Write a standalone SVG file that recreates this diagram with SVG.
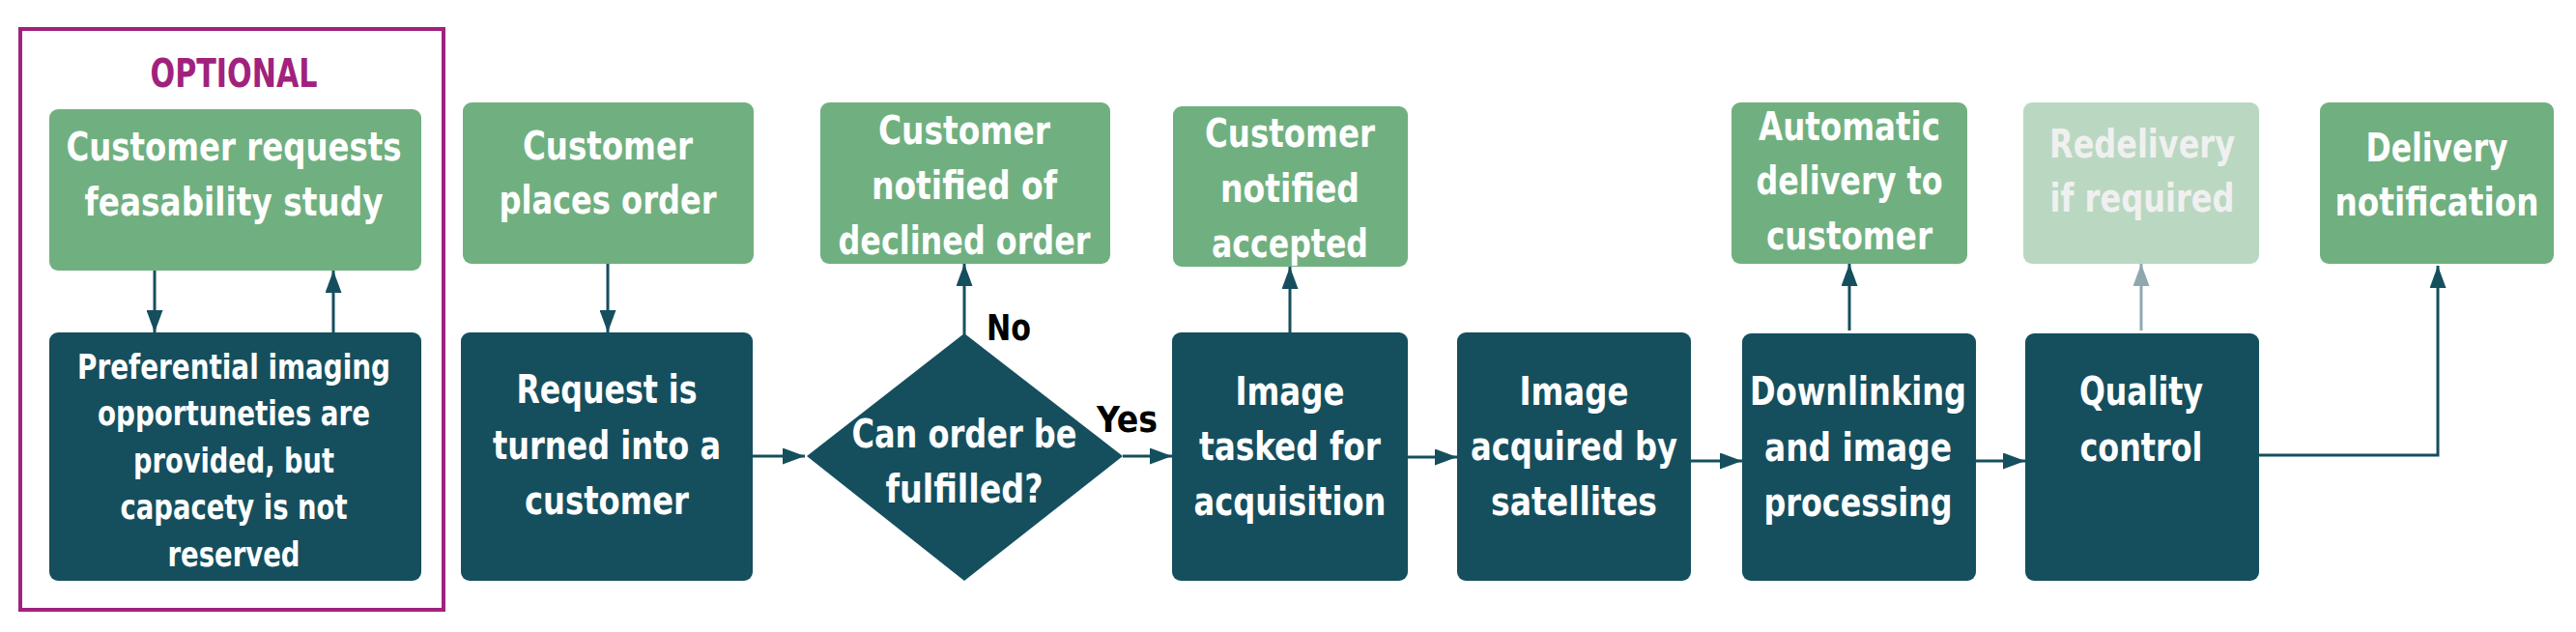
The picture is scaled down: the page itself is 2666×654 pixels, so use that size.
<svg xmlns="http://www.w3.org/2000/svg" width="2666" height="654" viewBox="0 0 2666 654">
<style>
.g{fill:#70B080}
.d{fill:#154F5E}
.p{fill:#BAD8C1}
text{font-family:"DejaVu Sans Condensed","DejaVu Sans","Liberation Sans",sans-serif;font-stretch:condensed;font-weight:bold}
.t{font-size:40px;fill:#FFFFFF;text-anchor:middle}
.ts{font-size:36px}
.pt{fill:#F0F0F0}
.lbl{font-size:37px;fill:#000000}
.c{fill:none;stroke:#154F5E;stroke-width:3}
.cp{fill:none;stroke:#8FA8B0;stroke-width:3}
</style>
<defs>
<marker id="ah" viewBox="0 0 23 17" refX="23" refY="8.5" markerWidth="23" markerHeight="17" orient="auto" markerUnits="userSpaceOnUse"><path d="M0,0 L23,8.5 L0,17 z" fill="#154F5E"/></marker>
<marker id="ahp" viewBox="0 0 23 17" refX="23" refY="8.5" markerWidth="23" markerHeight="17" orient="auto" markerUnits="userSpaceOnUse"><path d="M0,0 L23,8.5 L0,17 z" fill="#8FA8B0"/></marker>
</defs>
<rect x="0" y="0" width="2666" height="654" fill="#FFFFFF"/>
<g id="optional-frame">
<rect x="21" y="30" width="438" height="601" fill="none" stroke="#A0227D" stroke-width="4"/>
<text x="242" y="90" style="fill:#A0227D;text-anchor:middle;font-size:40px" textLength="173" lengthAdjust="spacingAndGlyphs">OPTIONAL</text>
</g>
<g id="connectors">
<line class="c" x1="160" y1="280" x2="160" y2="344" marker-end="url(#ah)"/>
<line class="c" x1="345" y1="344" x2="345" y2="280" marker-end="url(#ah)"/>
<line class="c" x1="629" y1="273" x2="629" y2="344" marker-end="url(#ah)"/>
<line class="c" x1="779" y1="472" x2="833" y2="472" marker-end="url(#ah)"/>
<line class="c" x1="998" y1="346" x2="998" y2="273" marker-end="url(#ah)"/>
<line class="c" x1="1162" y1="472" x2="1213" y2="472" marker-end="url(#ah)"/>
<line class="c" x1="1335" y1="344" x2="1335" y2="276" marker-end="url(#ah)"/>
<line class="c" x1="1457" y1="473" x2="1508" y2="473" marker-end="url(#ah)"/>
<line class="c" x1="1750" y1="477" x2="1803" y2="477" marker-end="url(#ah)"/>
<line class="c" x1="1914" y1="342" x2="1914" y2="273" marker-end="url(#ah)"/>
<line class="c" x1="2045" y1="477" x2="2096" y2="477" marker-end="url(#ah)"/>
<line class="cp" x1="2216" y1="342" x2="2216" y2="273" marker-end="url(#ahp)"/>
<polyline class="c" points="2338,471 2523,471 2523,275" marker-end="url(#ah)"/>
<text x="1021" y="352" class="lbl" textLength="46" lengthAdjust="spacingAndGlyphs">No</text>
<text x="1135" y="447" class="lbl" textLength="63" lengthAdjust="spacingAndGlyphs">Yes</text>
</g>
<g id="n-feasibility">
<rect class="g" x="51" y="113" width="385" height="167" rx="9"/>
<text class="t" x="242" y="166" textLength="347" lengthAdjust="spacingAndGlyphs">Customer requests</text>
<text class="t" x="242" y="223" textLength="309" lengthAdjust="spacingAndGlyphs">feasability study</text>
</g>
<g id="n-preferential">
<rect class="d" x="51" y="344" width="385" height="257" rx="9"/>
<text class="t ts" x="242" y="392" textLength="324" lengthAdjust="spacingAndGlyphs">Preferential imaging</text>
<text class="t ts" x="242" y="440" textLength="282" lengthAdjust="spacingAndGlyphs">opportuneties are</text>
<text class="t ts" x="242" y="489" textLength="208" lengthAdjust="spacingAndGlyphs">provided, but</text>
<text class="t ts" x="242" y="537" textLength="235" lengthAdjust="spacingAndGlyphs">capacety is not</text>
<text class="t ts" x="242" y="586" textLength="137" lengthAdjust="spacingAndGlyphs">reserved</text>
</g>
<g id="n-places-order">
<rect class="g" x="479" y="106" width="301" height="167" rx="9"/>
<text class="t" x="629" y="165" textLength="176" lengthAdjust="spacingAndGlyphs">Customer</text>
<text class="t" x="629" y="221" textLength="225" lengthAdjust="spacingAndGlyphs">places order</text>
</g>
<g id="n-request">
<rect class="d" x="477" y="344" width="302" height="257" rx="9"/>
<text class="t" x="628" y="417" textLength="187" lengthAdjust="spacingAndGlyphs">Request is</text>
<text class="t" x="628" y="475" textLength="236" lengthAdjust="spacingAndGlyphs">turned into a</text>
<text class="t" x="628" y="532" textLength="170" lengthAdjust="spacingAndGlyphs">customer</text>
</g>
<g id="n-decision">
<polygon class="d" points="998,345 1162,472 998,601 835,472"/>
<text class="t" x="998" y="463" textLength="233" lengthAdjust="spacingAndGlyphs">Can order be</text>
<text class="t" x="998" y="520" textLength="163" lengthAdjust="spacingAndGlyphs">fulfilled?</text>
</g>
<g id="n-declined">
<rect class="g" x="849" y="106" width="300" height="167" rx="9"/>
<text class="t" x="998" y="149" textLength="178" lengthAdjust="spacingAndGlyphs">Customer</text>
<text class="t" x="998" y="206" textLength="192" lengthAdjust="spacingAndGlyphs">notified of</text>
<text class="t" x="998" y="263" textLength="261" lengthAdjust="spacingAndGlyphs">declined order</text>
</g>
<g id="n-accepted">
<rect class="g" x="1214" y="110" width="243" height="166" rx="9"/>
<text class="t" x="1335" y="152" textLength="176" lengthAdjust="spacingAndGlyphs">Customer</text>
<text class="t" x="1335" y="209" textLength="144" lengthAdjust="spacingAndGlyphs">notified</text>
<text class="t" x="1335" y="266" textLength="162" lengthAdjust="spacingAndGlyphs">accepted</text>
</g>
<g id="n-tasked">
<rect class="d" x="1213" y="344" width="244" height="257" rx="9"/>
<text class="t" x="1335" y="419" textLength="113" lengthAdjust="spacingAndGlyphs">Image</text>
<text class="t" x="1335" y="476" textLength="188" lengthAdjust="spacingAndGlyphs">tasked for</text>
<text class="t" x="1335" y="533" textLength="199" lengthAdjust="spacingAndGlyphs">acquisition</text>
</g>
<g id="n-acquired">
<rect class="d" x="1508" y="344" width="242" height="257" rx="9"/>
<text class="t" x="1629" y="419" textLength="113" lengthAdjust="spacingAndGlyphs">Image</text>
<text class="t" x="1629" y="476" textLength="214" lengthAdjust="spacingAndGlyphs">acquired by</text>
<text class="t" x="1629" y="533" textLength="172" lengthAdjust="spacingAndGlyphs">satellites</text>
</g>
<g id="n-downlinking">
<rect class="d" x="1803" y="345" width="242" height="256" rx="9"/>
<text class="t" x="1923" y="419" textLength="224" lengthAdjust="spacingAndGlyphs">Downlinking</text>
<text class="t" x="1923" y="477" textLength="194" lengthAdjust="spacingAndGlyphs">and image</text>
<text class="t" x="1923" y="534" textLength="195" lengthAdjust="spacingAndGlyphs">processing</text>
</g>
<g id="n-auto-delivery">
<rect class="g" x="1792" y="106" width="244" height="167" rx="9"/>
<text class="t" x="1914" y="145" textLength="188" lengthAdjust="spacingAndGlyphs">Automatic</text>
<text class="t" x="1914" y="201" textLength="193" lengthAdjust="spacingAndGlyphs">delivery to</text>
<text class="t" x="1914" y="258" textLength="172" lengthAdjust="spacingAndGlyphs">customer</text>
</g>
<g id="n-quality">
<rect class="d" x="2096" y="345" width="242" height="256" rx="9"/>
<text class="t" x="2216" y="419" textLength="128" lengthAdjust="spacingAndGlyphs">Quality</text>
<text class="t" x="2216" y="477" textLength="127" lengthAdjust="spacingAndGlyphs">control</text>
</g>
<g id="n-redelivery">
<rect class="p" x="2094" y="106" width="244" height="167" rx="9"/>
<text class="t pt" x="2217" y="163" textLength="192" lengthAdjust="spacingAndGlyphs">Redelivery</text>
<text class="t pt" x="2217" y="219" textLength="191" lengthAdjust="spacingAndGlyphs">if required</text>
</g>
<g id="n-delivery-notification">
<rect class="g" x="2401" y="106" width="242" height="167" rx="9"/>
<text class="t" x="2522" y="167" textLength="147" lengthAdjust="spacingAndGlyphs">Delivery</text>
<text class="t" x="2522" y="223" textLength="211" lengthAdjust="spacingAndGlyphs">notification</text>
</g>
</svg>
